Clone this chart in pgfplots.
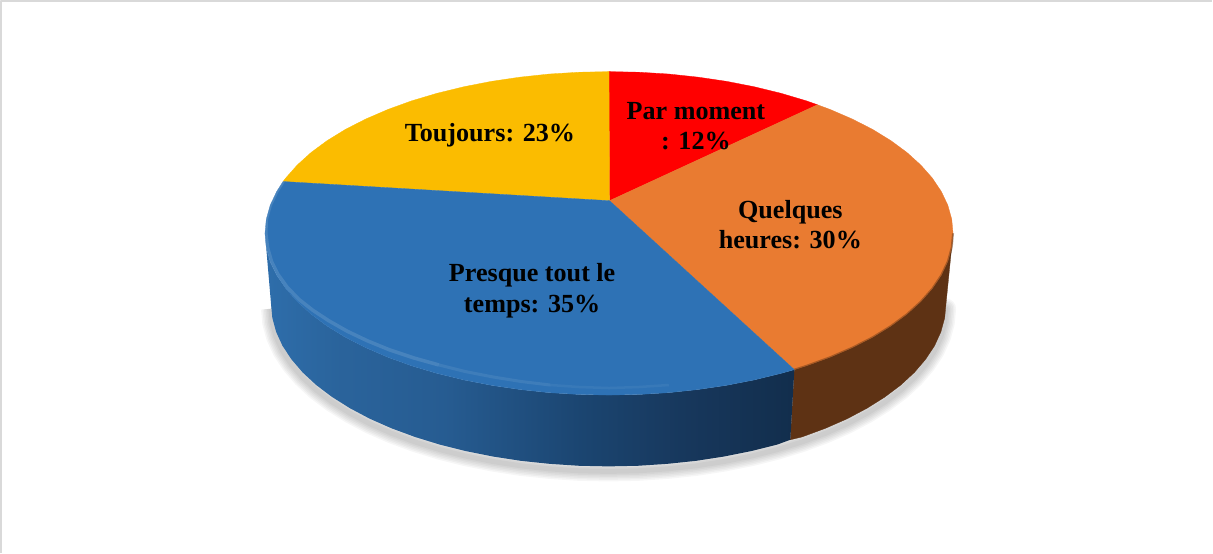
\documentclass[border=0pt]{standalone}
\usepackage{pgfplots}
\pgfplotsset{compat=1.18}
\usepackage{pgfplotstable}
\usepackage{fontspec}
\setmainfont{Liberation Serif}
\definecolor{cred}{HTML}{FF0000}
\definecolor{corange}{HTML}{E97B31}
\definecolor{cblue}{HTML}{2E72B5}
\definecolor{cyellow}{HTML}{FBBC00}
\definecolor{cbrown}{HTML}{5E3214}
\definecolor{cframe}{HTML}{D9D9D9}
\pgfdeclarehorizontalshading{sideblue}{100bp}{
  rgb(0bp)=(0.18,0.43,0.67);
  rgb(25bp)=(0.18,0.43,0.67);
  rgb(32bp)=(0.165,0.39,0.61);
  rgb(42bp)=(0.15,0.36,0.57);
  rgb(55bp)=(0.105,0.27,0.44);
  rgb(65bp)=(0.09,0.216,0.36);
  rgb(75bp)=(0.07,0.18,0.30);
  rgb(100bp)=(0.07,0.18,0.30)}
\pgfplotstableread{
x y
276 315
277.3 329.1
281.1 343.1
287.4 356.9
296.3 370.4
307.5 383.5
321 396
336.8 407.9
354.6 419.1
374.4 429.6
396 439.1
419.3 447.7
444 455.3
470 461.8
497.1 467.2
525 471.5
553.7 474.5
582.7 476.4
612 477
641.3 476.4
670.3 474.5
699 471.5
726.9 467.2
754 461.8
780 455.3
804.7 447.7
828 439.1
849.6 429.6
869.4 419.1
887.2 407.9
903 396
916.5 383.5
927.7 370.4
936.6 356.9
942.9 343.1
946.7 329.1
948 315
276 315
}\shadowtable
\begin{document}
\begin{tikzpicture}
\begin{axis}[
  width=1213pt,height=558pt,scale only axis,
  xmin=0,xmax=1213,ymin=0,ymax=558,y dir=reverse,
  hide axis,clip=false,
  every axis plot/.append style={mark=none,forget plot,line join=round}]
% frame
\addplot[draw=cframe,line width=1.6pt] coordinates {(7,558)(7,8.5)(1213,8.5)};
% shadow
\addplot[draw=black,opacity=0.035,line width=20pt] table {\shadowtable};
\addplot[draw=black,opacity=0.035,line width=17pt] table {\shadowtable};
\addplot[draw=black,opacity=0.035,line width=14pt] table {\shadowtable};
\addplot[draw=black,opacity=0.035,line width=11pt] table {\shadowtable};
\addplot[draw=black,opacity=0.035,line width=8pt] table {\shadowtable};
\addplot[draw=black,opacity=0.035,line width=5pt] table {\shadowtable};
% brown side
\addplot[fill=cbrown,draw=cbrown,line width=0.3pt] coordinates {
(955,240)(953.7,254)(949.8,268)(943.3,281.7)(934.3,295.1)(922.9,308)(909.1,320.5)(893.1,332.3)(874.9,343.5)(854.7,353.8)(832.7,363.3)(809,371.9)(797,375.7)
(793,445.5)(804.7,442.7)(828,434.1)(849.6,424.6)(869.4,414.1)(887.2,402.9)(903,391)(916.5,378.5)(927.7,365.4)(936.6,351.9)(942.9,338.1)(946.7,324.1)(948,310)(955,240)};
% blue side
\addplot[shading=sideblue,draw=none] coordinates {
(797,375.7)(783.8,379.4)(757.2,385.9)(729.6,391.3)(701.1,395.5)(672,398.6)(642.4,400.4)(612.5,401)(582.6,400.4)(553,398.6)(523.9,395.5)(495.4,391.3)(467.8,385.9)(441.2,379.4)(416,371.9)(392.3,363.3)(370.3,353.8)(350.1,343.5)(331.9,332.3)(315.9,320.5)(302.1,308)(290.7,295.1)(281.7,281.7)(275.2,268)(271.3,254)(270,240)
(276,310)(277.3,324.1)(281.1,338.1)(287.4,351.9)(296.3,365.4)(307.5,378.5)(321,391)(336.8,402.9)(354.6,414.1)(374.4,424.6)(396,434.1)(419.3,442.7)(444,450.3)(470,456.8)(497.1,462.2)(525,466.5)(553.7,469.5)(582.7,471.4)(612,472)(641.3,471.4)(670.3,469.5)(699,466.5)(726.9,462.2)(754,456.8)(780,450.3)(793,445.5)(797,375.7)};
% top face
\addplot[fill=cred,draw=cred,line width=0.3pt] coordinates {
(613,207.5)(612.5,79)(642.4,79.6)(672,81.4)(701.1,84.5)(729.6,88.7)(757.2,94.1)(783.8,100.6)(809,108.1)(820,112)(613,207.5)};
\addplot[fill=corange,draw=corange,line width=0.3pt] coordinates {
(613,207.5)(820,112)(832.7,116.7)(854.7,126.2)(874.9,136.5)(893.1,147.7)(909.1,159.5)(922.9,172)(934.3,184.9)(943.3,198.3)(949.8,212)(953.7,226)(955,240)(953.7,254)(949.8,268)(943.3,281.7)(934.3,295.1)(922.9,308)(909.1,320.5)(893.1,332.3)(874.9,343.5)(854.7,353.8)(832.7,363.3)(809,371.9)(797,375.7)(613,207.5)};
\addplot[fill=cyellow,draw=cyellow,line width=0.3pt] coordinates {
(613,207.5)(288,188.4)(290.7,184.9)(302.1,172)(315.9,159.5)(331.9,147.7)(350.1,136.5)(370.3,126.2)(392.3,116.7)(416,108.1)(441.2,100.6)(467.8,94.1)(495.4,88.7)(523.9,84.5)(553,81.4)(582.6,79.6)(612.5,79)(613,207.5)};
\addplot[fill=cblue,draw=cblue,line width=0.3pt] coordinates {
(613,207.5)(797,375.7)(783.8,379.4)(757.2,385.9)(729.6,391.3)(701.1,395.5)(672,398.6)(642.4,400.4)(612.5,401)(582.6,400.4)(553,398.6)(523.9,395.5)(495.4,391.3)(467.8,385.9)(441.2,379.4)(416,371.9)(392.3,363.3)(370.3,353.8)(350.1,343.5)(331.9,332.3)(315.9,320.5)(302.1,308)(290.7,295.1)(281.7,281.7)(275.2,268)(271.3,254)(270,240)(271.3,226)(275.2,212)(281.7,198.3)(288,188.4)(613,207.5)};
% rim highlight on the blue sector
\addplot[draw=white,opacity=0.12,line width=3.5pt] coordinates {
(288,188.4)(281.7,198.3)(275.2,212)(271.3,226)(270.8,240)(272.5,254)(276.5,268)(283,281)(292,293.5)(303.5,305.5)(317.5,316.5)(333.5,327)(352,337.5)(372,347)(394,356)(418,364)(443,371)};
\addplot[draw=white,opacity=0.08,line width=3pt] coordinates {
(443,371)(469,377.5)(497,383)(525,387.5)(554,391)};
\addplot[draw=white,opacity=0.05,line width=2.5pt] coordinates {
(554,391)(583,393)(612.5,394)(642,393)(672,391)};
% soft edge between the top and the side
\addplot[draw=cbrown,opacity=0.45,line width=2pt] coordinates {
(955,240)(953.7,254)(949.8,268)(943.3,281.7)(934.3,295.1)(922.9,308)(909.1,320.5)(893.1,332.3)(874.9,343.5)(854.7,353.8)(832.7,363.3)(809,371.9)(797,375.7)};
% labels
\node[anchor=base,font=\fontsize{26}{30}\selectfont\bfseries] at (axis cs:494,149) {Toujours: 23\%};
\node[anchor=base,font=\fontsize{26}{30}\selectfont\bfseries] at (axis cs:699,127) {Par moment};
\node[anchor=base,font=\fontsize{26}{30}\selectfont\bfseries] at (axis cs:699,157) {: 12\%};
\node[anchor=base,font=\fontsize{26}{30}\selectfont\bfseries] at (axis cs:793,225) {Quelques};
\node[anchor=base,font=\fontsize{26}{30}\selectfont\bfseries] at (axis cs:793,255) {heures: 30\%};
\node[anchor=base,font=\fontsize{26}{30}\selectfont\bfseries] at (axis cs:536,288) {Presque tout le};
\node[anchor=base,font=\fontsize{26}{30}\selectfont\bfseries] at (axis cs:536,319) {temps: 35\%};
\end{axis}
\end{tikzpicture}
\end{document}
